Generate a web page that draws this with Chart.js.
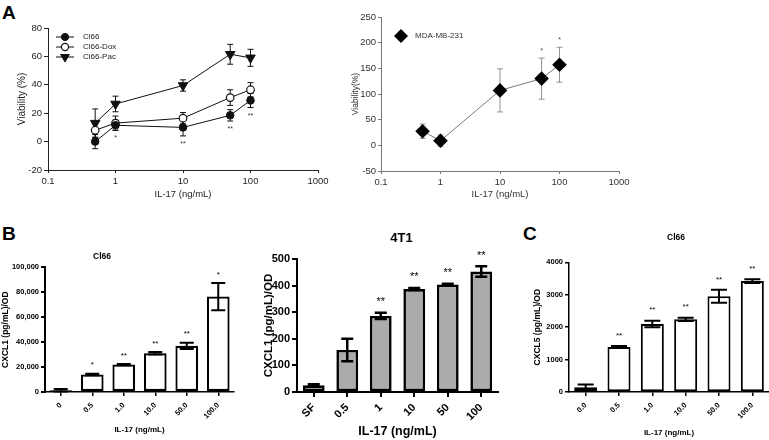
<!DOCTYPE html>
<html><head><meta charset="utf-8">
<script src="https://cdn.jsdelivr.net/npm/chart.js@4.4.1/dist/chart.umd.min.js"></script>
<style>
html,body{margin:0;padding:0;width:769px;height:440px;overflow:hidden;background:#fff;}
body{position:relative;font-family:'Liberation Sans',Arial,Helvetica,sans-serif;}
canvas{position:absolute;}
.plabel{position:absolute;font-weight:bold;font-size:19px;line-height:19px;color:#000;}
</style></head><body>
<div class="plabel" style="left:2px;top:3px">A</div>
<div class="plabel" style="left:2px;top:224px">B</div>
<div class="plabel" style="left:523px;top:224px">C</div>
<canvas id="chartA1" width="340" height="200" style="left:0;top:0"></canvas>
<canvas id="chartA2" width="310" height="200" style="left:330px;top:0"></canvas>
<canvas id="chartB1" width="272" height="200" style="left:-34px;top:240px"></canvas>
<canvas id="chartB2" width="313" height="225" style="left:245px;top:215px"></canvas>
<canvas id="chartC" width="312" height="225" style="left:520px;top:215px"></canvas>
<script>
// ---------------- DATA ----------------
const doseNgMl = [0.5, 1, 10, 50, 100];
const logTicks = [0.1, 1, 10, 100, 1000];

const cl66Viability = [0, 11.5, 10, 18.5, 29];
const cl66Err = [5, 3.5, 6, 4, 5];
const cl66Sig = ['', '*', '**', '**', '**'];
const cl66DoxViability = [8, 13, 16.5, 31, 36.5];
const cl66DoxErr = [5, 5, 4, 5.5, 5];
const cl66PacViability = [13, 26.5, 39.5, 61.5, 59];
const cl66PacErr = [10, 5.5, 4, 7, 6];

const mdaViability = [27.5, 9, 107, 130, 157];
const mdaErr = [14, 11, 42, 40, 34];
const mdaSig = ['', '', '', '*', '*'];

const cxcl1Cl66Labels = ['0', '0.5', '1.0', '10.0', '50.0', '100.0'];
const cxcl1Cl66 = [1500, 14000, 22000, 31000, 37000, 76500];
const cxcl1Cl66Err = [1000, 600, 500, 1000, 2500, 11000];
const cxcl1Cl66Sig = ['', '*', '**', '**', '**', '*'];

const cxcl14T1Labels = ['SF', '0.5', '1', '10', '50', '100'];
const cxcl14T1 = [25, 158, 286, 387, 404, 453];
const cxcl14T1Err = [4, 42, 12, 4, 3, 20];
const cxcl14T1Sig = ['', '', '**', '**', '**', '**'];

const cxcl5Labels = ['0.0', '0.5', '1.0', '10.0', '50.0', '100.0'];
const cxcl5 = [150, 1390, 2100, 2240, 2950, 3420];
const cxcl5Err = [80, 30, 100, 50, 200, 60];
const cxcl5Sig = ['', '**', '**', '**', '**', '**'];

// ---------------- SETUP ----------------
const FONT = "'Liberation Sans', Arial, Helvetica, sans-serif";
Chart.defaults.font.family = FONT;
Chart.defaults.animation = false;
Chart.defaults.responsive = false;
Chart.defaults.devicePixelRatio = 1;
Chart.defaults.plugins.legend.display = false;
Chart.defaults.plugins.tooltip.enabled = false;

const pts = (xs, ys) => xs.map((x, i) => ({ x, y: ys[i] }));

function drawMarker(ctx, shape, x, y, r, fill, stroke, lw) {
  ctx.save();
  ctx.beginPath();
  if (shape === 'circle') ctx.arc(x, y, r, 0, Math.PI * 2);
  else if (shape === 'triangleDown') {
    for (let k = 0; k < 3; k++) {
      const a = Math.PI + k * 2 * Math.PI / 3;
      const px = x + Math.sin(a) * r, py = y - Math.cos(a) * r;
      if (k === 0) ctx.moveTo(px, py); else ctx.lineTo(px, py);
    }
    ctx.closePath();
  } else if (shape === 'diamond') {
    ctx.moveTo(x - r, y); ctx.lineTo(x, y - r); ctx.lineTo(x + r, y); ctx.lineTo(x, y + r); ctx.closePath();
  }
  ctx.fillStyle = fill; ctx.fill();
  if (lw) { ctx.lineWidth = lw; ctx.strokeStyle = stroke; ctx.stroke(); }
  ctx.restore();
}

function errorBarPlugin(cfg) {
  const draw = chart => {
    const ctx = chart.ctx;
    chart.data.datasets.forEach((ds, di) => {
      if (!ds.errors) return;
      const meta = chart.getDatasetMeta(di);
      const ys = chart.scales[meta.yAxisID];
      ctx.save();
      ctx.strokeStyle = cfg.color; ctx.lineWidth = cfg.width;
      meta.data.forEach((el, i) => {
        const v = meta.controller.getParsed(i).y, e = ds.errors[i];
        if (!e) return;
        const x = el.x, y1 = ys.getPixelForValue(v + e), y0 = ys.getPixelForValue(v - e);
        ctx.beginPath();
        ctx.moveTo(x, y1); ctx.lineTo(x, y0);
        ctx.moveTo(x - cfg.cap, y1); ctx.lineTo(x + cfg.cap, y1);
        ctx.moveTo(x - cfg.cap, y0); ctx.lineTo(x + cfg.cap, y0);
        ctx.stroke();
      });
      ctx.restore();
    });
  };
  return {
    id: 'errorBars',
    beforeDatasetsDraw(chart) { if (!cfg.onTop) draw(chart); },
    afterDatasetsDraw(chart) { if (cfg.onTop) draw(chart); }
  };
}

function sigPlugin(cfg) {
  return {
    id: 'sigMarks',
    afterDatasetsDraw(chart) {
      const ctx = chart.ctx;
      chart.data.datasets.forEach((ds, di) => {
        if (!ds.sig) return;
        const meta = chart.getDatasetMeta(di);
        const ys = chart.scales[meta.yAxisID];
        ctx.save();
        ctx.fillStyle = cfg.color;
        ctx.font = (cfg.bold ? 'bold ' : '') + cfg.size + 'px ' + FONT;
        ctx.textAlign = 'center'; ctx.textBaseline = 'alphabetic';
        meta.data.forEach((el, i) => {
          const s = ds.sig[i]; if (!s) return;
          const v = meta.controller.getParsed(i).y, e = ds.errors ? ds.errors[i] : 0;
          const yc = cfg.below ? ys.getPixelForValue(v - e) + cfg.offset : ys.getPixelForValue(v + e) - cfg.offset;
          ctx.fillText(s, el.x, yc + cfg.size * 0.58);
        });
        ctx.restore();
      });
    }
  };
}

function legendPlugin(cfg) {
  return {
    id: 'markerLegend',
    afterDraw(chart) {
      const ctx = chart.ctx;
      cfg.items.forEach(it => {
        const ds = chart.data.datasets[it.dataset];
        ctx.save();
        ctx.strokeStyle = ds.borderColor; ctx.lineWidth = ds.borderWidth;
        ctx.beginPath(); ctx.moveTo(it.x - cfg.lineHalf, it.y); ctx.lineTo(it.x + cfg.lineHalf, it.y); ctx.stroke();
        drawMarker(ctx, ds.markerShape, it.x, it.y, ds.legendRadius, ds.pointBackgroundColor, ds.pointBorderColor, ds.pointBorderWidth);
        ctx.fillStyle = cfg.color; ctx.font = cfg.size + 'px ' + FONT;
        ctx.textBaseline = 'middle'; ctx.textAlign = 'left';
        ctx.fillText(ds.label, it.x + cfg.textGap, it.y);
        ctx.restore();
      });
    }
  };
}

function logXAxis(g) {
  return {
    type: 'logarithmic', position: 'bottom', min: 0.1, max: 1000,
    afterBuildTicks: s => { s.ticks = logTicks.map(v => ({ value: v })); },
    afterFit: s => { s.height = g.xH; },
    ticks: { autoSkip: false, maxRotation: 0, minRotation: 0, padding: 3, color: g.text, font: { size: g.tickFont }, callback: v => String(v) },
    grid: { display: true, drawOnChartArea: false, drawTicks: true, tickLength: 3, color: g.axis, lineWidth: 1 },
    border: { display: true, color: g.axis, width: 1 },
    title: { display: true, text: 'IL-17 (ng/mL)', color: g.text, font: { size: g.xTitleFont }, padding: { top: 0, bottom: g.xTitlePadB } }
  };
}

function linYAxis(g) {
  return {
    type: 'linear', position: 'left', min: g.min, max: g.max,
    afterFit: s => { s.width = g.yW; },
    ticks: { stepSize: g.step, padding: g.tickPad, color: g.text, font: { size: g.tickFont, weight: g.bold ? 'bold' : 'normal' }, callback: g.fmt || (v => String(v)) },
    grid: { display: true, drawOnChartArea: false, drawTicks: true, tickLength: g.tickLen, color: g.axis, lineWidth: g.lw },
    border: { display: true, color: g.axis, width: g.lw },
    title: { display: true, text: g.yTitle, align: g.yTitleAlign || 'center', color: g.text, font: { size: g.yTitleFont, weight: g.bold ? 'bold' : 'normal' }, padding: { top: g.yTitlePadT, bottom: 0 } }
  };
}

function catXAxis(g) {
  return {
    type: 'category', position: 'bottom', offset: true,
    afterFit: s => { s.height = g.xH; },
    ticks: { autoSkip: false, minRotation: 45, maxRotation: 45, padding: g.tickPad, color: '#000', font: { size: g.tickFont, weight: 'bold' } },
    grid: { display: true, offset: false, drawOnChartArea: false, drawTicks: true, tickLength: g.tickLen, color: '#000', lineWidth: g.lw },
    border: { display: true, color: '#000', width: g.lw },
    title: { display: true, text: 'IL-17 (ng/mL)', color: '#000', font: { size: g.xTitleFont, weight: 'bold' }, padding: { top: 0, bottom: g.xTitlePadB } }
  };
}

function spacerAxis(w) {
  return { type: 'linear', position: 'right', display: true, afterFit: s => { s.width = w; },
    grid: { display: false }, border: { display: false }, ticks: { display: false }, title: { display: false } };
}

// ---------------- PANEL A (left) ----------------
new Chart(document.getElementById('chartA1'), {
  type: 'scatter',
  data: { datasets: [
    { label: 'Cl66', data: pts(doseNgMl, cl66Viability), errors: cl66Err, sig: cl66Sig,
      markerShape: 'circle', legendRadius: 3.6, showLine: true, borderColor: '#111', borderWidth: 1,
      pointStyle: 'circle', pointRadius: 3.8, pointBackgroundColor: '#111', pointBorderColor: '#111', pointBorderWidth: 1 },
    { label: 'Cl66-Dox', data: pts(doseNgMl, cl66DoxViability), errors: cl66DoxErr,
      markerShape: 'circle', legendRadius: 3.6, showLine: true, borderColor: '#111', borderWidth: 1,
      pointStyle: 'circle', pointRadius: 3.8, pointBackgroundColor: '#fff', pointBorderColor: '#111', pointBorderWidth: 1.2 },
    { label: 'Cl66-Pac', data: pts(doseNgMl, cl66PacViability), errors: cl66PacErr,
      markerShape: 'triangleDown', legendRadius: 5, showLine: true, borderColor: '#111', borderWidth: 1,
      pointStyle: 'triangle', pointRotation: 180, pointRadius: 5.5, pointBackgroundColor: '#111', pointBorderColor: '#111', pointBorderWidth: 1 }
  ]},
  options: {
    layout: { padding: { left: 0, top: 28, right: 22, bottom: 0 } },
    scales: {
      x: logXAxis({ xH: 30, text: '#222', axis: '#222', tickFont: 9.5, xTitleFont: 9.5, xTitlePadB: 0 }),
      y: linYAxis({ min: -20, max: 80, step: 20, yW: 48, tickPad: 2, tickLen: 4, lw: 1, text: '#222', axis: '#222', tickFont: 9.5,
        yTitle: 'Viability (%)', yTitleFont: 10, yTitlePadT: 16 })
    }
  },
  plugins: [
    errorBarPlugin({ color: '#111', width: 1, cap: 3, onTop: false }),
    sigPlugin({ color: '#333', size: 7, below: true, offset: 6 }),
    legendPlugin({ items: [{ dataset: 0, x: 65, y: 37 }, { dataset: 1, x: 65, y: 47 }, { dataset: 2, x: 65, y: 57 }],
      lineHalf: 9, textGap: 18, size: 8, color: '#222' })
  ]
});

// ---------------- PANEL A (right) ----------------
new Chart(document.getElementById('chartA2'), {
  type: 'scatter',
  data: { datasets: [
    { label: 'MDA-MB-231', data: pts(doseNgMl, mdaViability), errors: mdaErr, sig: mdaSig,
      markerShape: 'diamond', legendRadius: 7, showLine: true, borderColor: '#555', borderWidth: 0.8,
      pointStyle: 'rectRot', pointRadius: 7.3, pointBackgroundColor: '#000', pointBorderColor: '#000', pointBorderWidth: 0 }
  ]},
  options: {
    layout: { padding: { left: 0, top: 17, right: 21, bottom: 0 } },
    scales: {
      x: logXAxis({ xH: 29, text: '#333', axis: '#777', tickFont: 9.5, xTitleFont: 9.5, xTitlePadB: 0 }),
      y: linYAxis({ min: -50, max: 250, step: 50, yW: 51, tickPad: 2, tickLen: 3, lw: 1, text: '#333', axis: '#777', tickFont: 9.5,
        yTitle: 'Viability(%)', yTitleFont: 8.5, yTitlePadT: 20.6 })
    }
  },
  plugins: [
    errorBarPlugin({ color: '#777', width: 0.8, cap: 3, onTop: false }),
    sigPlugin({ color: '#444', size: 7, below: false, offset: 9 }),
    legendPlugin({ items: [{ dataset: 0, x: 71, y: 36 }], lineHalf: 0, textGap: 14, size: 8, color: '#333' })
  ]
});

// ---------------- PANEL B (Cl66 CXCL1) ----------------
new Chart(document.getElementById('chartB1'), {
  type: 'bar',
  data: { labels: cxcl1Cl66Labels, datasets: [
    { label: 'CXCL1', data: cxcl1Cl66, errors: cxcl1Cl66Err, sig: cxcl1Cl66Sig,
      backgroundColor: '#fff', borderColor: '#000', borderWidth: 2.2, borderSkipped: false,
      categoryPercentage: 1, barPercentage: 0.72 }
  ]},
  options: {
    layout: { padding: 0 },
    scales: {
      x: catXAxis({ xH: 48, tickPad: 5, tickLen: 4, lw: 1.5, tickFont: 7.5, xTitleFont: 8, xTitlePadB: 5.5 }),
      y: linYAxis({ min: 0, max: 100000, step: 20000, yW: 79, tickPad: 2, tickLen: 4, lw: 2, text: '#000', axis: '#000', tickFont: 7.5, bold: true,
        fmt: v => v.toLocaleString('en-US'), yTitle: 'CXCL1 (pg/mL)/OD', yTitleFont: 8.5, yTitlePadT: 35 }),
      yR: spacerAxis(4)
    },
    plugins: { title: { display: true, text: 'Cl66', color: '#000', font: { size: 8.5, weight: 'bold' }, padding: { top: 12, bottom: 5.1 } } }
  },
  plugins: [
    errorBarPlugin({ color: '#000', width: 2, cap: 7, onTop: true }),
    sigPlugin({ color: '#000', size: 8, below: false, offset: 11 })
  ]
});

// ---------------- PANEL B (4T1 CXCL1) ----------------
new Chart(document.getElementById('chartB2'), {
  type: 'bar',
  data: { labels: cxcl14T1Labels, datasets: [
    { label: 'CXCL1', data: cxcl14T1, errors: cxcl14T1Err, sig: cxcl14T1Sig,
      backgroundColor: '#ababab', borderColor: '#000', borderWidth: 2.6, borderSkipped: false,
      categoryPercentage: 1, barPercentage: 0.65 }
  ]},
  options: {
    layout: { padding: 0 },
    scales: {
      x: catXAxis({ xH: 48, tickPad: 4, tickLen: 5, lw: 2, tickFont: 11, xTitleFont: 12.5, xTitlePadB: 0.8 }),
      y: linYAxis({ min: 0, max: 500, step: 100, yW: 52, tickPad: 2, tickLen: 5, lw: 2, text: '#000', axis: '#000', tickFont: 11, bold: true,
        yTitle: 'CXCL1 (pg/mL)/OD', yTitleFont: 11.5, yTitlePadT: 17.1 }),
      yR: spacerAxis(60)
    },
    plugins: { title: { display: true, text: '4T1', color: '#000', font: { size: 13, weight: 'bold' }, padding: { top: 15.2, bottom: 13.2 } } }
  },
  plugins: [
    errorBarPlugin({ color: '#000', width: 2.5, cap: 6, onTop: true }),
    sigPlugin({ color: '#000', size: 11, below: false, offset: 14 })
  ]
});

// ---------------- PANEL C (Cl66 CXCL5) ----------------
new Chart(document.getElementById('chartC'), {
  type: 'bar',
  data: { labels: cxcl5Labels, datasets: [
    { label: 'CXCL5', data: cxcl5, errors: cxcl5Err, sig: cxcl5Sig,
      backgroundColor: '#fff', borderColor: '#000', borderWidth: 2, borderSkipped: false,
      categoryPercentage: 1, barPercentage: 0.69 }
  ]},
  options: {
    layout: { padding: 0 },
    scales: {
      x: catXAxis({ xH: 48, tickPad: 5, tickLen: 4, lw: 1.5, tickFont: 7.5, xTitleFont: 8, xTitlePadB: 2.3 }),
      y: linYAxis({ min: 0, max: 4000, step: 1000, yW: 49, tickPad: 2, tickLen: 4, lw: 1.5, text: '#000', axis: '#000', tickFont: 7.5, bold: true,
        yTitle: 'CXCL5 (pg/mL)/OD', yTitleFont: 8.5, yTitlePadT: 13 }),
      yR: spacerAxis(63)
    },
    plugins: { title: { display: true, text: 'Cl66', color: '#000', font: { size: 8.5, weight: 'bold' }, padding: { top: 17.3, bottom: 19.8 } } }
  },
  plugins: [
    errorBarPlugin({ color: '#000', width: 2, cap: 8, onTop: true }),
    sigPlugin({ color: '#000', size: 8, below: false, offset: 13 })
  ]
});
</script>
</body></html>
